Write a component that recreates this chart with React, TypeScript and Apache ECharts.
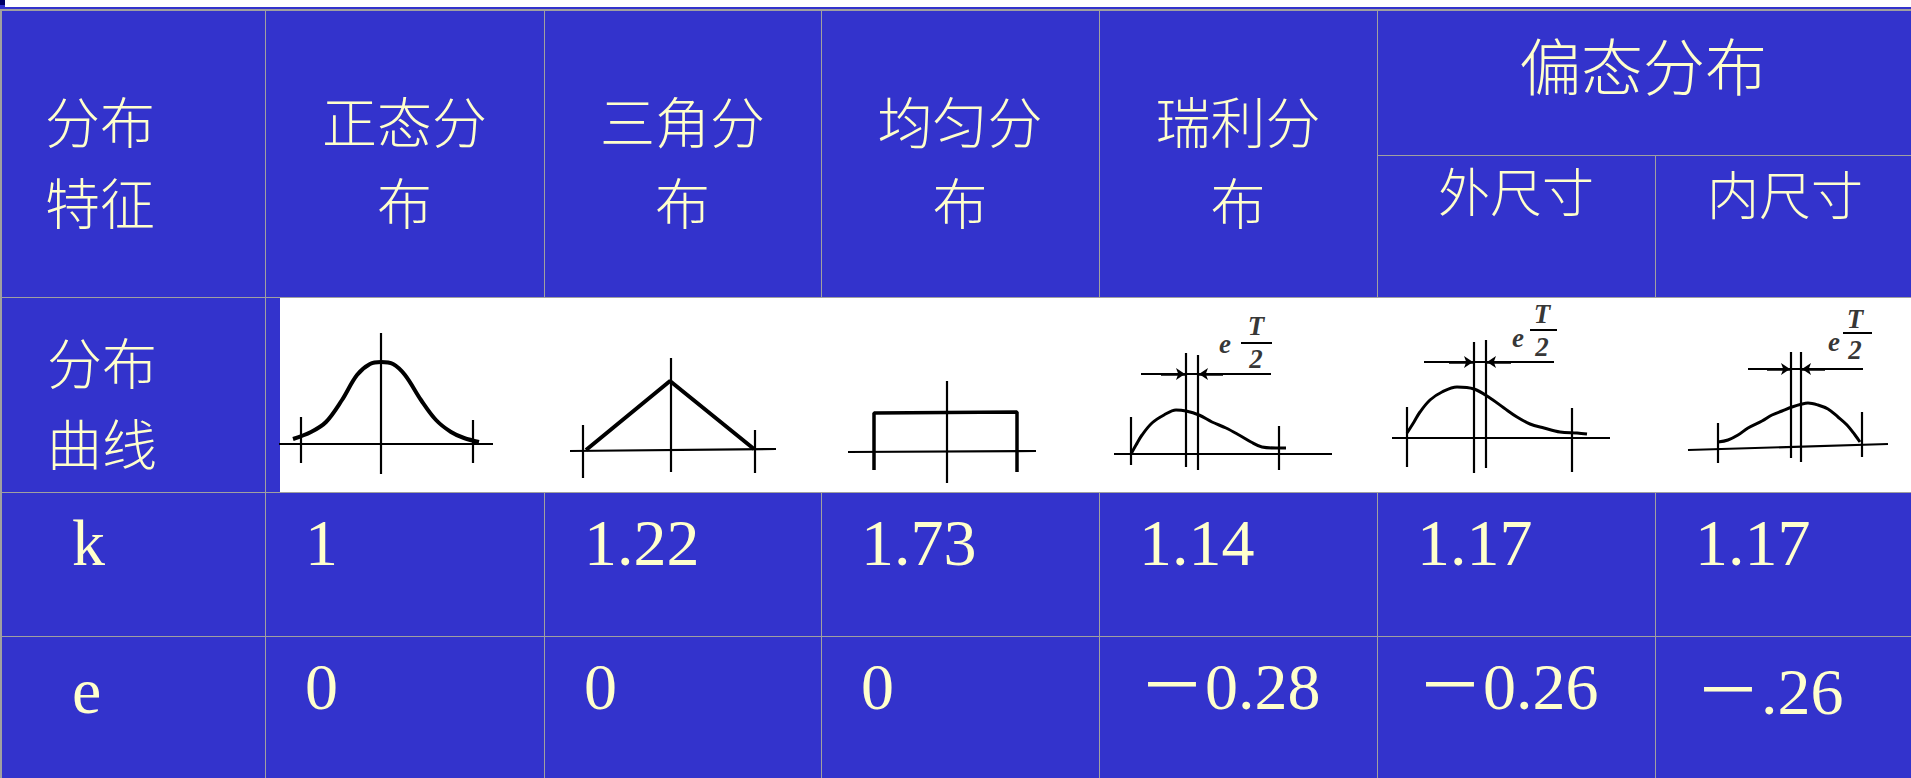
import React, { useEffect, useRef } from "react";
import * as echarts from "echarts";

type Pt = [number, number];
type Seg = [Pt, Pt];

// ---------- table texts ----------
const headerLabels: string[][] = [["分布", "特征"], ["正态分", "布"], ["三角分", "布"], ["均匀分", "布"], ["瑞利分", "布"]];
const skewHeader = "偏态分布";
const skewSubHeaders = ["外尺寸", "内尺寸"];
const curveRowLabel = ["分布", "曲线"];
const rowLabels = ["k", "e"];
const kValues = ["1", "1.22", "1.73", "1.14", "1.17", "1.17"];
const eValues = ["0", "0", "0", "－0.28", "－0.26", "－.26"];

// ---------- diagram data (local units of each small sketch) ----------
const normalCurve: Pt[] = [[28,53],[46,60],[61,70],[77,92],[92,117],[105,128],[116,130],[128,128],[140,117],[156,92],[171,72],[186,60],[199,54],[214,50]];
const normalAxes: Seg[] = [[[14,48],[228,48]], [[116,18],[116,159]], [[36,29],[36,75]], [[208,29],[208,72]]];

const triangleCurve: Pt[] = [[42,42],[126,111],[210,43]];
const triangleAxes: Seg[] = [[[26,41],[232,43]], [[127,20],[127,134]], [[39,14],[39,67]], [[211,19],[211,62]]];

const uniformCurve: Pt[] = [[53,22],[53,79],[196,80],[196,20]];
const uniformAxes: Seg[] = [[[27,40],[215,41]], [[126,9],[126,111]]];

const rayleighCurve: Pt[] = [[32,38],[37,47],[43,57],[53,69],[65,77],[77,82],[87,81],[100,77],[113,70],[127,64],[140,57],[152,50],[163,45],[177,44],[187,44]];
const rayleighAxes: Seg[] = [[[15,38],[233,38]], [[32,27],[32,75]], [[87,25],[87,139]], [[99,22],[99,137]], [[180,22],[180,66]], [[42,118],[172,118]]];
const rayleighArrows: Seg[] = [[[62,118],[86,118]], [[124,118],[100,118]]];
const rayleighText: Pt[] = [[126,148],[157,166],[157,133]];
const rayleighBar: Seg[] = [[[142,149],[173,149]]];

const outerCurve: Pt[] = [[30,59],[37,70],[43,80],[53,92],[65,100],[80,105],[97,103],[113,94],[127,84],[140,75],[153,68],[167,64],[183,60],[200,59],[210,58]];
const outerAxes: Seg[] = [[[15,54],[233,54]], [[30,25],[30,85]], [[97,19],[97,150]], [[109,24],[109,152]], [[195,20],[195,84]], [[47,130],[177,130]]];
const outerArrows: Seg[] = [[[72,130],[96,130]], [[134,130],[110,130]]];
const outerText: Pt[] = [[141,154],[165,178],[165,145]];
const outerBar: Seg[] = [[[153,162],[180,162]]];

const innerCurve: Pt[] = [[63,50],[73,52],[83,57],[93,64],[107,71],[117,77],[127,81],[137,85],[147,88],[153,89],[163,87],[173,83],[183,75],[192,67],[200,57],[205,50]];
const innerAxes: Seg[] = [[[33,42],[233,48]], [[63,29],[63,69]], [[136,34],[136,140]], [[146,30],[146,140]], [[207,35],[207,80]], [[93,123],[208,123]]];
const innerArrows: Seg[] = [[[112,123],[135,123]], [[170,123],[147,123]]];
const innerText: Pt[] = [[179,150],[200,173],[200,142]];
const innerBar: Seg[] = [[[188,159],[217,159]]];

const labelChars = ["e", "T", "2"];

// ---------- layout ----------
const colEdges = [0, 265, 544, 821, 1099, 1377, 1655, 1911];
const BLUE = "#3333CC";
const GRAY = "#A0A0A0";
const CREAM = "#FFFFCC";
const CJK = "'Noto Sans CJK SC', sans-serif";
const SERIF = "'Liberation Serif', 'Noto Sans CJK SC', serif";

export default function App() {
  const ref = useRef<HTMLDivElement>(null);

  useEffect(() => {
    const chart = echarts.init(ref.current!, null, { renderer: "svg" });

    const diagrams = [
      { curve: normalCurve, smooth: 0.35, axes: normalAxes, w: 4 },
      { curve: triangleCurve, smooth: 0, axes: triangleAxes, w: 4 },
      { curve: uniformCurve, smooth: 0, axes: uniformAxes, w: 3.5 },
      { curve: rayleighCurve, smooth: 0.35, axes: rayleighAxes, w: 3, arrows: rayleighArrows, text: rayleighText, bar: rayleighBar },
      { curve: outerCurve, smooth: 0.35, axes: outerAxes, w: 3, arrows: outerArrows, text: outerText, bar: outerBar },
      { curve: innerCurve, smooth: 0.35, axes: innerAxes, w: 3, arrows: innerArrows, text: innerText, bar: innerBar },
    ];

    const grids: any[] = [];
    const xAxes: any[] = [];
    const yAxes: any[] = [];
    const series: any[] = [];
    diagrams.forEach((d: any, i) => {
      const left = colEdges[i + 1];
      const width = colEdges[i + 2] - left;
      grids.push({ left, top: 297, width, height: 195, show: false });
      xAxes.push({ type: "value", gridIndex: i, min: 0, max: width, show: false });
      yAxes.push({ type: "value", gridIndex: i, min: 0, max: 195, show: false });
      series.push({
        type: "line", xAxisIndex: i, yAxisIndex: i, data: d.curve, smooth: d.smooth,
        symbol: "none", silent: true, z: 5,
        lineStyle: { color: "#000", width: d.w },
      });
      series.push({
        type: "lines", coordinateSystem: "cartesian2d", xAxisIndex: i, yAxisIndex: i,
        data: d.axes.map((c: Seg) => ({ coords: c })), symbol: "none", silent: true, z: 4,
        lineStyle: { color: "#000", width: 2.2, opacity: 1, curveness: 0 },
      });
      if (d.arrows) {
        series.push({
          type: "lines", coordinateSystem: "cartesian2d", xAxisIndex: i, yAxisIndex: i,
          data: d.arrows.map((c: Seg) => ({ coords: c })), symbol: ["none", "arrow"], symbolSize: [0, 9],
          silent: true, z: 4, lineStyle: { color: "#000", width: 2.5, opacity: 1, curveness: 0 },
        });
        series.push({
          type: "lines", coordinateSystem: "cartesian2d", xAxisIndex: i, yAxisIndex: i,
          data: d.bar.map((c: Seg) => ({ coords: c })), symbol: "none",
          silent: true, z: 4, lineStyle: { color: "#000", width: 2, opacity: 1, curveness: 0 },
        });
        series.push({
          type: "scatter", xAxisIndex: i, yAxisIndex: i, symbol: "circle", symbolSize: 1,
          silent: true, z: 6, itemStyle: { color: "rgba(0,0,0,0)" },
          data: d.text.map((p: Pt, k: number) => ({ value: p, name: labelChars[k] })),
          label: {
            show: true, position: "inside", formatter: (p: any) => p.name,
            fontFamily: "'Liberation Serif', serif", fontStyle: "italic", fontWeight: "bold",
            fontSize: 27, color: "#000",
          },
        });
      }
    });

    const g: any[] = [];
    const rect = (x: number, y: number, w: number, h: number, fill: string) =>
      g.push({ type: "rect", shape: { x, y, width: w, height: h }, style: { fill }, silent: true });
    const line = (x1: number, y1: number, x2: number, y2: number, lw = 1) =>
      g.push({ type: "line", shape: { x1, y1, x2, y2 }, style: { stroke: GRAY, lineWidth: lw }, silent: true });
    const text = (x: number, y: number, t: string, o: any) =>
      g.push({ type: "text", x, y, z: 10, silent: true, style: { text: t, fill: CREAM, verticalAlign: "middle", ...o } });

    rect(0, 7, 1911, 771, BLUE);
    rect(0, 0, 5, 5, "#000066");
    rect(0, 5, 5, 2, BLUE);
    // grid lines
    line(0, 10, 1911, 10, 2);
    line(1, 9, 1, 778, 2);
    line(0, 297.5, 1911, 297.5);
    line(0, 492.5, 1911, 492.5);
    line(0, 636.5, 1911, 636.5);
    line(1377, 155.5, 1911, 155.5);
    [265, 544, 821, 1099, 1377].forEach((x) => line(x + 0.5, 10, x + 0.5, 778));
    line(1655.5, 155, 1655.5, 778);
    // white curve row
    rect(280, 298, 1631, 194, "#FFFFFF");

    // header texts (two-line cells)
    const cjk = { fontFamily: CJK, fontSize: 55, fontWeight: 300 };
    const gap = 81;
    headerLabels[0].forEach((t, j) => text(45, 119 + j * gap, t, { ...cjk, align: "left" }));
    for (let i = 1; i < headerLabels.length; i++) {
      headerLabels[i].forEach((t, j) =>
        text((colEdges[i] + colEdges[i + 1]) / 2, 119 + j * gap, t, { ...cjk, align: "center" }));
    }
    text(1643, 64, skewHeader, { ...cjk, fontSize: 62, align: "center" });
    text(1516, 189, skewSubHeaders[0], { ...cjk, fontSize: 52, align: "center" });
    text(1785, 192, skewSubHeaders[1], { ...cjk, fontSize: 52, align: "center" });
    curveRowLabel.forEach((t, j) => text(47, 360 + j * gap, t, { ...cjk, align: "left" }));

    // k / e rows
    const num = { fontFamily: SERIF, fontSize: 66, align: "left" };
    text(72, 542, rowLabels[0], num);
    text(72, 690, rowLabels[1], num);
    kValues.forEach((v, i) => text(colEdges[i + 1] + 40, 542, v, num));
    eValues.forEach((v, i) => text(colEdges[i + 1] + 40, i === 5 ? 691 : 686, v, num));

    chart.setOption({
      animation: false,
      backgroundColor: "#FFFFFF",
      grid: grids,
      xAxis: xAxes,
      yAxis: yAxes,
      series,
      graphic: { elements: g },
    });

    return () => chart.dispose();
  }, []);

  return <div ref={ref} style={{ position: "fixed", left: 0, top: 0, width: 1911, height: 778 }} />;
}
